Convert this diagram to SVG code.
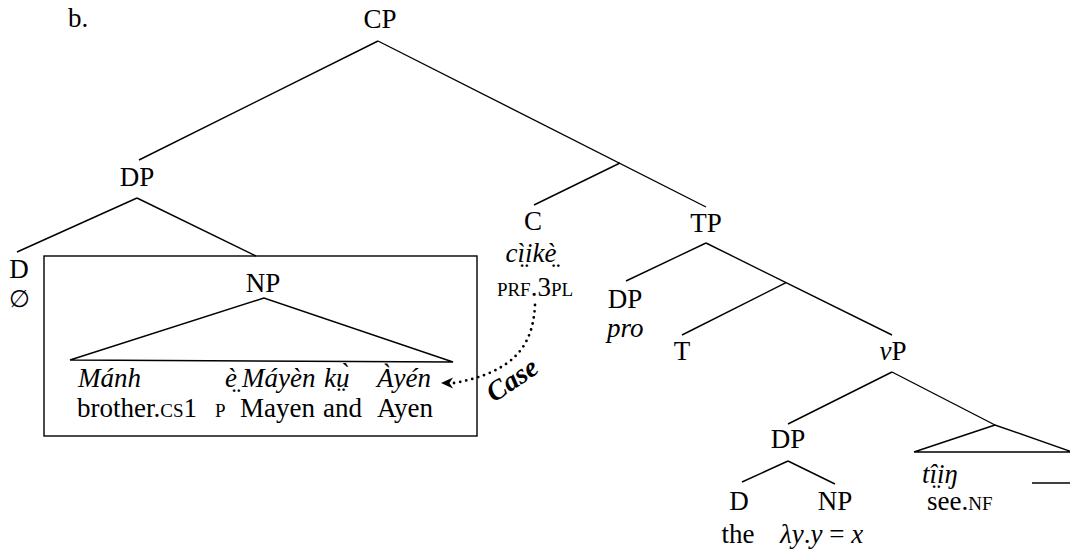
<svg xmlns="http://www.w3.org/2000/svg" width="1070" height="556" viewBox="0 0 1070 556" font-family="'Liberation Serif', 'Times New Roman', 'DejaVu Serif', serif">
<style>
text{font-family:'Liberation Serif','Times New Roman','DejaVu Serif',serif;font-size:27px;fill:#000}
.m{text-anchor:middle}
.i{font-style:italic}
.sc{font-variant:small-caps}
.ln{stroke:#000;stroke-width:1.4;fill:none}
</style>
<rect width="1070" height="556" fill="#fff"/>
<g id="connectors">
<line class="ln" x1="378" y1="41" x2="139" y2="160"/>
<line class="ln" x1="378" y1="41" x2="706" y2="207"/>
<line class="ln" x1="620" y1="163" x2="534" y2="205"/>
<line class="ln" x1="137" y1="198" x2="17" y2="252"/>
<line class="ln" x1="137" y1="198" x2="256" y2="256"/>
<line class="ln" x1="706" y1="243" x2="626" y2="281"/>
<line class="ln" x1="706" y1="243" x2="892" y2="335"/>
<line class="ln" x1="786" y1="282.6" x2="682" y2="335"/>
<line class="ln" x1="892" y1="372" x2="788" y2="424"/>
<line class="ln" x1="892" y1="372" x2="995" y2="425"/>
<line class="ln" x1="788" y1="461" x2="742" y2="482"/>
<line class="ln" x1="788" y1="461" x2="835" y2="484"/>
<path d="M535 305 C533 345 515 372 454 383" fill="none" stroke="#000" stroke-width="2.8" stroke-linecap="round" stroke-dasharray="0 6.2"/>
<path d="M441 383 L453 377.5 L449.5 383 L453 388.5 Z" fill="#000"/>
</g>
<g id="label-b"><text x="68" y="27">b.</text></g>
<g id="CP"><text class="m" x="380" y="28">CP</text></g>
<g id="DP1"><text class="m" x="137" y="186">DP</text></g>
<g id="D1"><text class="m" x="19" y="278">D</text><text class="m" style="font-size:24px" x="19" y="307">∅</text></g>
<g id="NP1">
<rect x="44" y="256" width="433" height="180" fill="none" stroke="#000" stroke-width="1.4"/>
<text class="m" x="263" y="292">NP</text>
<polygon class="ln" points="264,298 70,360 453,362"/>
<text class="i" x="78" y="387">Mánh</text>
<text class="i" x="225" y="387">è̤</text>
<text class="i" x="242" y="387">Máyèn</text>
<text class="i" x="324" y="387">kṳ̀</text>
<text class="i" x="377" y="387">Àyén</text>
<text x="77" y="417">brother.<tspan class="sc">cs</tspan>1</text>
<text class="sc" x="215" y="417">p</text>
<text x="240" y="417">Mayen</text>
<text x="323" y="417">and</text>
<text x="377" y="417">Ayen</text>
</g>
<g id="C">
<text class="m" x="533" y="230">C</text>
<text class="m i" x="531" y="262">cì̤ikè̤</text>
<text class="m" x="535" y="296"><tspan class="sc">prf</tspan>.3<tspan class="sc">pl</tspan></text>
</g>
<g id="case-label"><text class="i" font-weight="bold" style="font-size:28px" transform="translate(494 403) rotate(-34)">Case</text></g>
<g id="TP"><text class="m" x="706" y="232">TP</text></g>
<g id="DP-pro"><text class="m" x="625" y="308">DP</text><text class="i" x="607" y="337">pro</text></g>
<g id="T"><text class="m" x="682" y="360">T</text></g>
<g id="vP"><text class="m" x="893" y="360"><tspan class="i">v</tspan>P</text></g>
<g id="DP2"><text class="m" x="788" y="448">DP</text></g>
<g id="D2"><text class="m" x="739" y="510">D</text><text class="m" x="738" y="543">the</text></g>
<g id="NP2"><text class="m" x="835" y="510">NP</text><text x="780" y="543"><tspan class="i">λy</tspan>.<tspan class="i">y</tspan> = <tspan class="i">x</tspan></text></g>
<g id="VP-triangle">
<polygon class="ln" points="995,425 914,452 1072,452"/>
<text class="i" x="922" y="483">tî̤iŋ</text>
<text x="927" y="510">see.<tspan class="sc">nf</tspan></text>
<line class="ln" x1="1032" y1="483" x2="1070" y2="483"/>
</g>
</svg>
